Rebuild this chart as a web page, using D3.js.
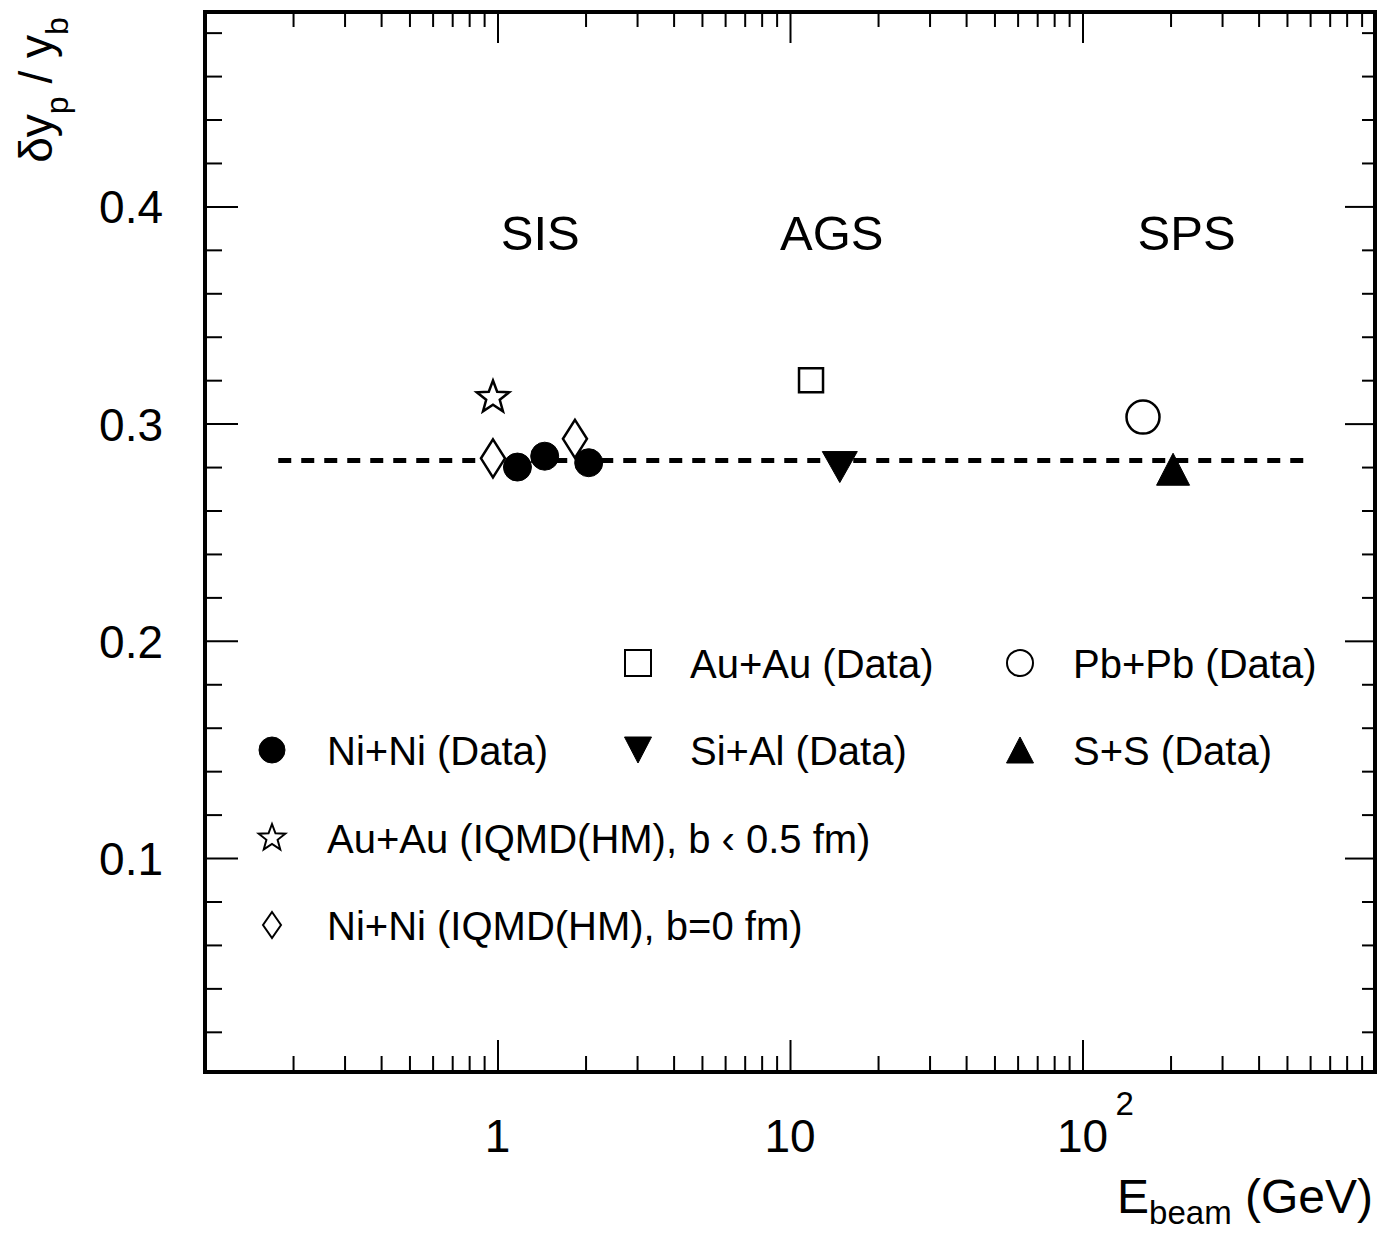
<!DOCTYPE html>
<html>
<head>
<meta charset="utf-8">
<script src="https://cdn.jsdelivr.net/npm/d3@7"></script>
<style>
  body { margin: 0; background: #fff; }
  svg { display: block; }
  text { font-family: "Liberation Sans", Arial, Helvetica, sans-serif; fill: #000; }
</style>
</head>
<body>
<div id="chart"></div>
<script>
// data: [E_beam (GeV), dy_p / y_b]
const niniData = [[1.17, 0.280], [1.45, 0.285], [2.05, 0.282]];
const niniIqmd = [[0.965, 0.284], [1.84, 0.293]];
const auauIqmd = [[0.965, 0.312]];
const auauData = [[11.8, 0.320]];
const siAlData = [[14.8, 0.280]];
const pbpbData = [[161, 0.303]];
const ssData   = [[204, 0.279]];

// mean value (dashed line)
const meanX = [0.178, 590];
const meanY = 0.283;

// accelerator labels
const regionNames = ["SIS", "AGS", "SPS"];
const regionE = [1.40, 13.9, 227];
const regionY = 0.380;

// ticks
const yMajor = [0.1, 0.2, 0.3, 0.4];
const yMinor = d3.range(1, 25).map(i => +(i * 0.02).toFixed(2)).filter(v => !yMajor.includes(v));
const xMajor = [1, 10, 100];
const xMinor = [0.1, 1, 10, 100].flatMap(d => d3.range(2, 10).map(k => +(d * k).toPrecision(3)));

const W = 1379, H = 1233;
const margin = { top: 12, right: 4, bottom: 161, left: 205 };

const x = d3.scaleLog().domain([0.1, 1000]).range([margin.left, W - margin.right]);
const y = d3.scaleLinear().domain([0.0015, 0.4895]).range([H - margin.bottom, margin.top]);

const svg = d3.select("#chart").append("svg")
    .attr("width", W)
    .attr("height", H);

const x0 = margin.left, x1 = W - margin.right, y0 = H - margin.bottom, y1 = margin.top;

// ticks on all four sides, pointing inwards
function ticks(axis, values, size, tx) {
  const g = svg.append("g").attr("transform", tx)
      .call(axis.tickValues(values).tickSize(size).tickFormat(""));
  g.select(".domain").remove();
  g.selectAll("line").attr("stroke", "#000").attr("stroke-width", 2);
}
ticks(d3.axisBottom(x), xMajor, -32, `translate(0,${y0})`);
ticks(d3.axisBottom(x), xMinor, -16, `translate(0,${y0})`);
ticks(d3.axisTop(x), xMajor, -31, `translate(0,${y1})`);
ticks(d3.axisTop(x), xMinor, -15, `translate(0,${y1})`);
ticks(d3.axisLeft(y), yMajor, -33, `translate(${x0},0)`);
ticks(d3.axisLeft(y), yMinor, -17, `translate(${x0},0)`);
ticks(d3.axisRight(y), yMajor, -30, `translate(${x1},0)`);
ticks(d3.axisRight(y), yMinor, -13, `translate(${x1},0)`);

// frame
svg.append("rect")
    .attr("x", x0).attr("y", y1)
    .attr("width", x1 - x0).attr("height", y0 - y1)
    .attr("fill", "none").attr("stroke", "#000").attr("stroke-width", 4);

// tick labels
svg.selectAll(".ylab")
  .data(yMajor)
  .enter().append("text")
    .attr("x", 163)
    .attr("y", d => y(d) + 17)
    .attr("text-anchor", "end")
    .style("font-size", "46px")
    .text(d => d.toFixed(1));

xMajor.forEach(d => {
  svg.append("text")
      .attr("x", x(d))
      .attr("y", 1152)
      .attr("text-anchor", "middle")
      .style("font-size", "46px")
      .text(d >= 100 ? "10" : d);
  if (d >= 100) {
    svg.append("text")
        .attr("x", x(d) + 33)
        .attr("y", 1115)
        .style("font-size", "33px")
        .text(Math.round(Math.log10(d)));
  }
});

// axis titles
const xt = svg.append("text")
    .attr("x", 1373).attr("y", 1213)
    .attr("text-anchor", "end")
    .style("font-size", "48px");
xt.append("tspan").text("E");
xt.append("tspan").attr("dy", 11).style("font-size", "33px").text("beam");
xt.append("tspan").attr("dy", -11).text(" (GeV)");

const yt = svg.append("text")
    .attr("transform", "translate(52,90) rotate(-90)")
    .attr("text-anchor", "middle")
    .style("font-size", "46px");
yt.append("tspan").text("\u03b4y");
yt.append("tspan").attr("dy", 16).style("font-size", "32px").text("p");
yt.append("tspan").attr("dy", -16).text(" / y");
yt.append("tspan").attr("dy", 16).style("font-size", "32px").text("b");

// accelerator labels
svg.selectAll(".region")
  .data(regionNames)
  .enter().append("text")
    .attr("x", (d, i) => x(regionE[i]))
    .attr("y", y(regionY))
    .attr("text-anchor", "middle")
    .style("font-size", "49px")
    .text(d => d);

// dashed mean line
svg.append("line")
    .attr("x1", x(meanX[0])).attr("x2", x(meanX[1]))
    .attr("y1", y(meanY)).attr("y2", y(meanY))
    .attr("stroke", "#000")
    .attr("stroke-width", 5)
    .attr("stroke-dasharray", "13,10");

// marker shapes
function starPath(R) {
  const pts = [];
  for (let i = 0; i < 10; i++) {
    const a = -Math.PI / 2 + i * Math.PI / 5;
    const r = i % 2 ? R * 0.42 : R;
    pts.push([r * Math.cos(a), r * Math.sin(a)]);
  }
  return "M" + pts.join("L") + "Z";
}
const shapes = {
  circle:  s => d3.symbol(d3.symbolCircle, Math.PI * s.r * s.r)(),
  square:  s => `M${-s.r},${-s.r}H${s.r}V${s.r}H${-s.r}Z`,
  triDown: s => `M${-s.w / 2},${-s.h / 2}L${s.w / 2},${-s.h / 2}L0,${s.h / 2}Z`,
  triUp:   s => `M${-s.w / 2},${s.h / 2}L${s.w / 2},${s.h / 2}L0,${-s.h / 2}Z`,
  star:    s => starPath(s.r),
  diamond: s => `M0,${-s.h}L${s.w},0L0,${s.h}L${-s.w},0Z`
};

const series = [
  { data: niniData, shape: "circle",  fill: true,  size: { r: 14 },          leg: { r: 13 } },
  { data: niniIqmd, shape: "diamond", fill: false, size: { w: 12, h: 19 },   leg: { w: 9, h: 13 } },
  { data: auauIqmd, shape: "star",    fill: false, size: { r: 17 },          leg: { r: 14 } },
  { data: auauData, shape: "square",  fill: false, size: { r: 12 },          leg: { r: 13 } },
  { data: siAlData, shape: "triDown", fill: true,  size: { w: 35, h: 31 },   leg: { w: 27, h: 26 } },
  { data: pbpbData, shape: "circle",  fill: false, size: { r: 16.5 },        leg: { r: 13 } },
  { data: ssData,   shape: "triUp",   fill: true,  size: { w: 33, h: 32 },   leg: { w: 27, h: 26 } }
];

series.forEach(s => {
  svg.append("g").selectAll("path")
    .data(s.data)
    .enter().append("path")
      .attr("transform", d => `translate(${x(d[0])},${y(d[1])})`)
      .attr("d", shapes[s.shape](s.size))
      .attr("fill", s.fill ? "#000" : "#fff")
      .attr("stroke", "#000")
      .attr("stroke-width", s.fill ? 1 : 2.5)
      .attr("stroke-linejoin", "miter");
});

// legend
const legendLabels = ["Ni+Ni (Data)", "Ni+Ni (IQMD(HM), b=0 fm)", "Au+Au (IQMD(HM), b \u2039 0.5 fm)",
  "Au+Au (Data)", "Si+Al (Data)", "Pb+Pb (Data)", "S+S (Data)"];
const legendCol = [0, 0, 0, 1, 1, 2, 2];
const legendRow = [1, 3, 2, 0, 1, 0, 1];
const colMark = [272, 638, 1020], colText = [327, 690, 1073];
const rowY = [663, 750, 838, 925];

series.forEach((s, i) => {
  const g = svg.append("g");
  g.append("path")
      .attr("transform", `translate(${colMark[legendCol[i]]},${rowY[legendRow[i]]})`)
      .attr("d", shapes[s.shape](s.leg))
      .attr("fill", s.fill ? "#000" : "#fff")
      .attr("stroke", "#000")
      .attr("stroke-width", s.fill ? 1 : 2);
  g.append("text")
      .attr("x", colText[legendCol[i]])
      .attr("y", rowY[legendRow[i]] + 15)
      .style("font-size", "40px")
      .text(legendLabels[i]);
});
</script>
</body>
</html>
